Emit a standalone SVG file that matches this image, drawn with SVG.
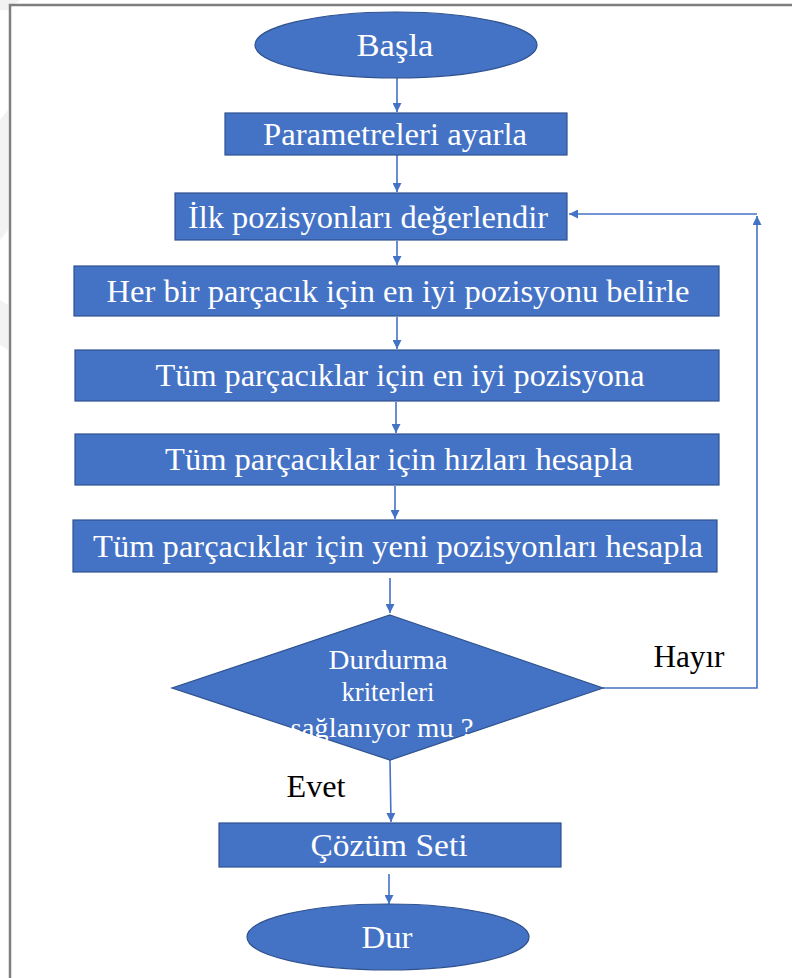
<svg xmlns="http://www.w3.org/2000/svg" width="792" height="978" viewBox="0 0 792 978">
  <defs>
    <style>
      .node { fill: #4472C4; stroke: #2F528F; stroke-width: 1.2; }
      .lbl { font-size: 32px; fill: #FFFFFF; text-anchor: middle; }
      .dlbl { font-size: 28px; fill: #FFFFFF; text-anchor: middle; }
      .tag { font-size: 31px; fill: #000000; text-anchor: middle; }
      .wire { fill: none; stroke: #4472C4; stroke-width: 1.6; }
    </style>
    <marker id="head" viewBox="0 0 10 10" refX="10" refY="5" markerWidth="9" markerHeight="9" markerUnits="userSpaceOnUse" orient="auto">
      <path d="M0,0 L10,5 L0,10 Z" fill="#4472C4"/>
    </marker>
  </defs>

  <rect width="792" height="978" fill="#FFFFFF"/>

  <!-- faint background marks outside the frame -->
  <g fill="#F2F2F2">
    <polygon points="0,0 20,0 8,10 0,10"/>
    <polygon points="0,120 8,110 8,230 0,240"/>
    <polygon points="0,300 8,305 8,350 0,345"/>
  </g>

  <!-- page frame -->
  <path d="M10,980 V5 H795" fill="none" stroke="#7F7F7F" stroke-width="2.5"/>

  <!-- connectors -->
  <g id="connectors">
    <line class="wire" x1="397" y1="78" x2="397" y2="112" marker-end="url(#head)"/>
    <line class="wire" x1="397" y1="155" x2="397" y2="192" marker-end="url(#head)"/>
    <line class="wire" x1="397" y1="241" x2="397" y2="265" marker-end="url(#head)"/>
    <line class="wire" x1="397" y1="317" x2="397" y2="349" marker-end="url(#head)"/>
    <line class="wire" x1="396" y1="402" x2="396" y2="433" marker-end="url(#head)"/>
    <line class="wire" x1="395" y1="486" x2="395" y2="519" marker-end="url(#head)"/>
    <line class="wire" x1="390" y1="578" x2="390" y2="613" marker-end="url(#head)"/>
    <line class="wire" x1="390" y1="760" x2="391" y2="822" marker-end="url(#head)"/>
    <line class="wire" x1="389" y1="874" x2="389" y2="904" marker-end="url(#head)"/>
    <path class="wire" d="M603,688 H757 V216" marker-end="url(#head)"/>
    <line class="wire" x1="757" y1="214" x2="569" y2="214" marker-end="url(#head)"/>
  </g>

  <g font-family="Liberation Serif, Times New Roman, serif">
  <g id="start">
    <ellipse class="node" cx="396" cy="45" rx="141" ry="33"/>
    <text class="lbl" x="395" y="56" textLength="77" lengthAdjust="spacingAndGlyphs">Başla</text>
  </g>

  <g id="set-params">
    <rect class="node" x="225" y="113" width="342" height="42"/>
    <text class="lbl" x="395" y="145" textLength="264" lengthAdjust="spacingAndGlyphs">Parametreleri ayarla</text>
  </g>

  <g id="eval-initial">
    <rect class="node" x="175" y="193" width="392" height="47"/>
    <text class="lbl" x="368" y="228" textLength="360" lengthAdjust="spacingAndGlyphs">İlk pozisyonları değerlendir</text>
  </g>

  <g id="personal-best">
    <rect class="node" x="74" y="266" width="645" height="50"/>
    <text class="lbl" x="398" y="302" textLength="583" lengthAdjust="spacingAndGlyphs">Her bir parçacık için en iyi pozisyonu belirle</text>
  </g>

  <g id="global-best">
    <rect class="node" x="75" y="350" width="644" height="51"/>
    <text class="lbl" x="400" y="386" textLength="489" lengthAdjust="spacingAndGlyphs">Tüm parçacıklar için en iyi pozisyona</text>
  </g>

  <g id="velocities">
    <rect class="node" x="75" y="434" width="644" height="51"/>
    <text class="lbl" x="399" y="470" textLength="468" lengthAdjust="spacingAndGlyphs">Tüm parçacıklar için hızları hesapla</text>
  </g>

  <g id="positions">
    <rect class="node" x="73" y="520" width="644" height="52"/>
    <text class="lbl" x="398" y="557" textLength="610" lengthAdjust="spacingAndGlyphs">Tüm parçacıklar için yeni pozisyonları hesapla</text>
  </g>

  <g id="stop-check">
    <polygon class="node" points="390,615 603,688 390,760 172,688"/>
    <text class="dlbl" x="388" y="669" textLength="119" lengthAdjust="spacingAndGlyphs">Durdurma</text>
    <text class="dlbl" x="388" y="701" textLength="93" lengthAdjust="spacingAndGlyphs">kriterleri</text>
    <text class="dlbl" x="382" y="737" textLength="183" lengthAdjust="spacingAndGlyphs">sağlanıyor mu ?</text>
  </g>

  <g id="label-no">
    <text class="tag" x="689" y="667" textLength="71" lengthAdjust="spacingAndGlyphs">Hayır</text>
  </g>
  <g id="label-yes">
    <text class="tag" x="316" y="797" textLength="59" lengthAdjust="spacingAndGlyphs">Evet</text>
  </g>

  <g id="solution">
    <rect class="node" x="219" y="823" width="342" height="44"/>
    <text class="lbl" x="389" y="856" textLength="157" lengthAdjust="spacingAndGlyphs">Çözüm Seti</text>
  </g>

  <g id="stop">
    <ellipse class="node" cx="388" cy="937" rx="141" ry="33"/>
    <text class="lbl" x="387" y="948" textLength="51" lengthAdjust="spacingAndGlyphs">Dur</text>
  </g>
  </g>
</svg>
